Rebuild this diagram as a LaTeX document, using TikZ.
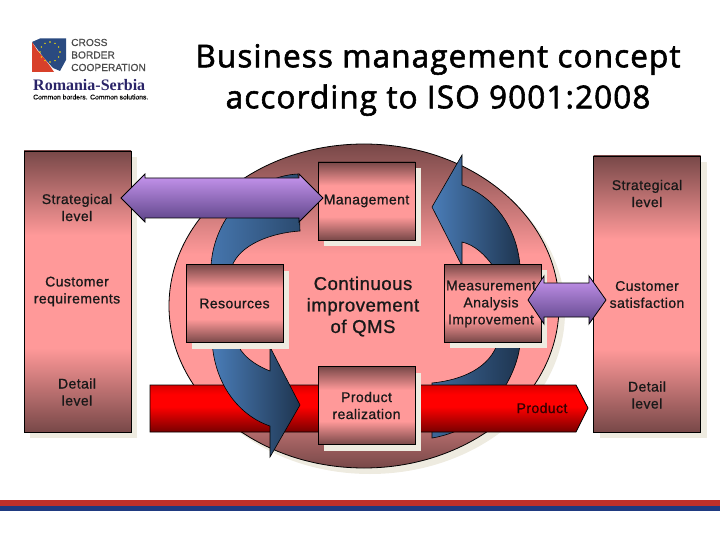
\documentclass[tikz,border=0pt]{standalone}
\usepackage{fontspec}
\setmainfont[LetterSpace=3,FakeBold=0.9]{Liberation Sans}
\newfontfamily\titlefont[LetterSpace=3.5,FakeBold=1.8]{Open Sans}
\newfontfamily\logofont{Liberation Serif}
\newfontfamily\plainfont[FakeBold=0.4]{Liberation Sans}
\usetikzlibrary{shadows}
\definecolor{darkrose}{HTML}{784848}
\definecolor{lightrose}{HTML}{FF9999}
\definecolor{paleshadow}{HTML}{EEEBE0}
\definecolor{lilactop}{HTML}{C896F0}
\definecolor{lilacbottom}{HTML}{5D4488}
\definecolor{bluelight}{HTML}{4A7DB8}
\definecolor{bluedark}{HTML}{1E3550}
\definecolor{logoblue}{HTML}{2A4A80}
\definecolor{logored}{HTML}{D8402A}
\definecolor{logonavy}{HTML}{2A2468}
\definecolor{footred}{HTML}{C0302A}
\definecolor{footblue}{HTML}{1F3A80}
\definecolor{barred}{HTML}{FF0000}
\definecolor{bartop}{HTML}{D80000}
\definecolor{barbottom}{HTML}{780000}
\pgfdeclareverticalshading{roseshade}{100bp}{color(0bp)=(darkrose); color(25bp)=(darkrose); color(40bp)=(lightrose); color(60bp)=(lightrose); color(75bp)=(darkrose); color(100bp)=(darkrose)}
\pgfdeclareverticalshading{ballshade}{100bp}{color(0bp)=(darkrose); color(25bp)=(darkrose); color(38bp)=(lightrose); color(58bp)=(lightrose); color(75bp)=(darkrose); color(100bp)=(darkrose)}
\pgfdeclareverticalshading{barshade}{100bp}{color(0bp)=(barbottom); color(25bp)=(barbottom); color(52bp)=(barred); color(65bp)=(barred); color(75bp)=(bartop); color(100bp)=(bartop)}
\tikzset{
  rosebox/.style={draw=black,line width=0.8pt,shading=roseshade,
    general shadow={fill=paleshadow,shadow xshift=6pt,shadow yshift=-6pt},inner sep=0pt,align=center},
  levelbox/.style={rosebox,minimum width=107pt},
  stepbox/.style={rosebox,minimum width=97pt,minimum height=78pt},
  label/.style={font=\fontsize{14}{17}\selectfont,align=center,text=black!90},
  bluearc/.style={draw=black,line width=0.6pt,left color=bluelight,right color=bluedark},
  lilacarrow/.style={draw=black,line width=0.8pt,top color=lilactop,bottom color=lilacbottom},
  redarrow/.style={draw=black,line width=0.8pt,shading=barshade}
}
\begin{document}
\begin{tikzpicture}[x=1pt,y=-1pt]
\useasboundingbox (0,0) rectangle (720,540);

% Title
\node [font=\titlefont\fontsize{31.5}{41}\selectfont,align=center] (title) at (438,80) {Business management concept\\according to ISO 9001:2008};

% Logo
\fill [logoblue] (32,42) -- (40,38.5) -- (66,38.5) -- (66,60) -- (60,71) -- (53,68) -- (44,58) -- cycle;
\fill [logored] (32,42) -- (37,50) -- (44,58) -- (50,66) -- (54,72) -- (32,72) -- cycle;
\foreach \a in {0,30,...,330}
  \fill [yellow!90!orange] ({50+10*cos(\a)},{52+10*sin(\a)}) circle (0.8);
\node [font=\plainfont\fontsize{10.2}{12.5}\selectfont,align=left,text=black!70,anchor=west,inner sep=0pt] (logotext) at (71,55) {CROSS\\BORDER\\COOPERATION};
\node [font=\logofont\bfseries\fontsize{16}{18}\selectfont,text=logonavy,anchor=west,inner sep=0pt] (logoname) at (33,85) {Romania-Serbia};
\node [font=\plainfont\fontsize{6.8}{8}\selectfont,anchor=west,inner sep=0pt] (logoline) at (33,97) {Common borders. Common solutions.};

% Side boxes and the big ellipse
\node [levelbox,minimum height=281pt] (leftbox) at (77.5,291.5) {};
\node [levelbox,minimum height=276pt] (rightbox) at (647,294) {};
\fill [paleshadow] (370,312) ellipse (195 and 162);
\draw [line width=0.8pt,shading=ballshade] (364,306) ellipse (195 and 162);

% Curved arrows behind the bar
\draw [bluearc,left color=bluelight!70!bluedark] (520,342) .. controls (520,365) and (495,428) .. (432,438) -- (432,383) .. controls (462,380) and (490,368) .. (498,342) -- cycle;

% Product bar
\draw [redarrow] (150,385) -- (576,385) -- (588,408) -- (576,432) -- (150,432) -- cycle;
\node [label,text=black!80!red] (product) at (542,408) {Product};

% Curved arrows
\draw [bluearc] (212,340) .. controls (214,385) and (240,416) .. (270,426) -- (270,457) -- (300,405) -- (270,347) -- (270,371) .. controls (255,365) and (240,355) .. (236,340) -- cycle;
\draw [bluearc,left color=bluelight!90!bluedark,right color=bluedark!70!bluelight] (211,266) .. controls (214,215) and (255,176) .. (298,174) -- (300,231) .. controls (270,233) and (240,245) .. (232,266) -- cycle;
\draw [bluearc] (462,155) -- (462,185) .. controls (495,197) and (517,228) .. (520,266) -- (493,266) .. controls (485,255) and (475,245) .. (462,242) -- (462,266) -- (432,207) -- cycle;

% Step boxes
\node [stepbox] (management) at (366.5,201) {};
\node [stepbox] (resources) at (234.5,303.5) {};
\node [stepbox] (measurement) at (492.5,303) {};
\node [stepbox] (realization) at (366.5,405.5) {};

% Double arrows
\draw [lilacarrow] (121,198) -- (145,174) -- (145,178) -- (299,178) -- (299,174) -- (323,198) -- (299,222) -- (299,218) -- (145,218) -- (145,222) -- cycle;
\draw [lilacarrow] (528,300) -- (544,276) -- (544,283) -- (589,283) -- (589,276) -- (606,300) -- (589,324) -- (589,317) -- (544,317) -- (544,324) -- cycle;

% Labels
\node [label] (strategicalleft) at (77,207.5) {Strategical\\level};
\node [label] (requirements) at (77,291.5) {Customer\\requirements};
\node [label] (detailleft) at (77,392) {Detail\\level};
\node [label] (strategicalright) at (647,193.5) {Strategical\\level};
\node [label] (satisfaction) at (647,294.5) {Customer\\satisfaction};
\node [label] (detailright) at (647,395) {Detail\\level};
\node [label] at (management) {Management};
\node [label] at (resources) {Resources};
\node [label] at (491,304) {Measurement\\Analysis\\Improvement};
\node [label] at (realization) {Product\\realization};
\node [label,font=\fontsize{18.5}{21.5}\selectfont] (improvement) at (363,306.5) {Continuous\\improvement\\of QMS};

% Footer stripes
\fill [footred] (0,500) rectangle (720,505.5);
\fill [footblue] (0,505.5) rectangle (720,511);
\end{tikzpicture}
\end{document}
